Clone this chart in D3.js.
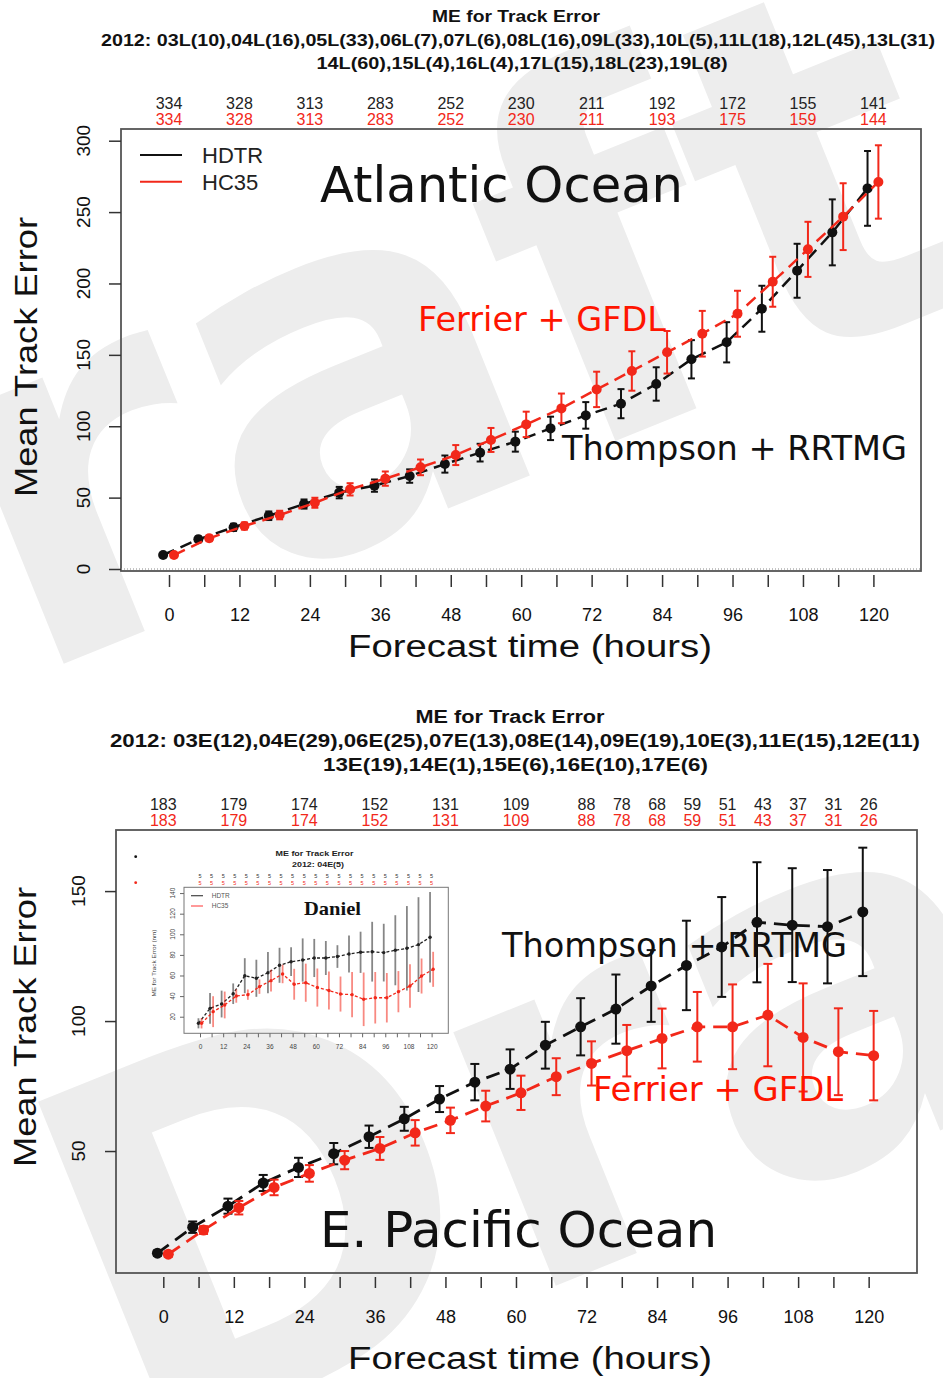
<!DOCTYPE html>
<html><head><meta charset="utf-8">
<script src="https://cdn.jsdelivr.net/npm/d3@7"></script>
<style>body{margin:0;background:#fff}svg{display:block}</style>
</head><body>
<svg id="c" width="943" height="1378"></svg>
<script>
// ---------------- DATA ----------------
const leadHours = [0,6,12,18,24,30,36,42,48,54,60,66,72,78,84,90,96,102,108,114,120];
const labelHours = [0,12,24,36,48,60,72,84,96,108,120];

// Atlantic
const atlHDTR    = [9.8,20.8,29.2,37.3,45.5,53.5,58.4,65.1,73.5,81.5,89.2,98.5,107.6,115.8,129.6,146.9,158.8,182.3,208.9,235.8,266.6];
const atlHDTRerr = [1,2,2.5,3,3.2,4,4.3,4.7,6,6.2,7,8.2,9.3,10.2,11.7,13.4,14.1,16.1,18.9,23.1,26.2];
const atlHC35    = [9.8,21.5,30.1,37.8,46.4,55.8,63.3,71.2,79.8,90.4,101.3,112.5,125.8,138.7,151.8,164.8,178.8,201.2,223.9,246.8,271.1];
const atlHC35err = [1,2,2.5,3,3.5,4.3,5,5.5,7,8.4,8.9,10.4,12.4,13.8,14.9,16.0,16.1,17.5,19.3,23.4,25.7];
const atlCountHours = [0,12,24,36,48,60,72,84,96,108,120];
const atlCountHDTR  = [334,328,313,283,252,230,211,192,172,155,141];
const atlCountHC35  = [334,328,313,283,252,230,211,193,175,159,144];
const atlYTicks = [0,50,100,150,200,250,300];
const atlTitles = ["ME for Track Error",
  "2012: 03L(10),04L(16),05L(33),06L(7),07L(6),08L(16),09L(33),10L(5),11L(18),12L(45),13L(31)",
  "14L(60),15L(4),16L(4),17L(15),18L(23),19L(8)"];

// E. Pacific
const epacHDTR    = [10.7,20.7,28.8,37.7,43.7,49.0,55.5,62.4,70.0,76.5,81.5,90.7,97.8,104.6,113.5,121.4,128.5,138.0,136.9,136.3,142.0];
const epacHDTRerr = [1,2.2,2.9,3.1,3.7,4.1,4.3,4.6,5,7,7.6,9.0,11.0,13.3,13.8,17.2,19.2,23.1,21.9,21.8,24.7];
const epacHC35    = [10.3,19.6,28.2,36.0,41.4,46.5,51.0,57.0,61.8,67.3,72.4,78.6,83.7,88.6,93.3,97.8,97.8,102.3,93.7,88.2,86.7];
const epacHC35err = [1,1.5,2.6,3,3.2,3.5,4.4,4.9,4.9,5.9,6.6,7.1,8.5,9.9,11.5,13.4,16.3,19.7,20.8,16.7,17.2];
const epacCountHours = [0,12,24,36,48,60,72,78,84,90,96,102,108,114,120];
const epacCountHDTR  = [183,179,174,152,131,109,88,78,68,59,51,43,37,31,26];
const epacCountHC35  = [183,179,174,152,131,109,88,78,68,59,51,43,37,31,26];
const epacYTicks = [50,100,150];
const epacTitles = ["ME for Track Error",
  "2012: 03E(12),04E(29),06E(25),07E(13),08E(14),09E(19),10E(3),11E(15),12E(11)",
  "13E(19),14E(1),15E(6),16E(10),17E(6)"];

// Inset: Daniel (04E)
const danHDTR    = [13.6,28.1,32.3,42.3,59.8,57.3,62.7,69.9,73.4,75.0,77.0,77.0,78.4,80.9,82.5,83.1,82.2,84.5,86.4,90.0,97.1];
const danHDTRerr = [4.9,15,13,10,17,18,20,17,14,21,18.5,16.5,11,18,20,29,28,34,41,46,44];
const danHC35    = [13.6,24.9,31.4,40.1,41.4,49.2,55.0,61.5,51.5,53.0,48.3,45.4,42.0,41.4,36.9,38.4,38.4,44.3,49.8,59.5,66.0];
const danHC35err = [5,15,13,6.5,5,7,10.5,9,15,18.5,18.5,18.5,17,22,26,25,24,20,21,17,17];
const danCount   = [5,5,5,5,5,5,5,5,5,5,5,5,5,5,5,5,5,5,5,5,5];
const danYTicks  = [20,40,60,80,100,120,140];

// ---------------- DRAWING ----------------
const SANS = "'Liberation Sans', Arial, Helvetica, sans-serif";
const VER  = "'DejaVu Sans', Verdana, sans-serif";
const RED = '#f2281a', BLK = '#111';
const svg = d3.select('#c');

// watermark
const wm = svg.append('g');
[[-360,835],[132,1457]].forEach(p => {
  wm.append('text').attr('transform', `translate(${p[0]},${p[1]}) rotate(-22)`)
    .attr('font-family', VER).attr('font-weight','bold').attr('font-size', 500)
    .attr('fill', '#ededed').text('Draft');
});

function fitText(sel, w){ if(w) sel.attr('textLength', w).attr('lengthAdjust','spacingAndGlyphs'); return sel; }

function drawPanel(o){
  const g = svg.append('g');
  const x = d3.scaleLinear().domain(o.xDom).range([o.L, o.R]);
  const y = d3.scaleLinear().domain(o.yDom).range([o.B, o.T]);

  o.titles.forEach((t,i) => {
    fitText(g.append('text').attr('x', o.titleX[i]).attr('y', o.titleY[i])
      .attr('text-anchor','middle').attr('font-family',SANS).attr('font-weight','bold')
      .attr('font-size', o.titleSize).attr('fill','#111').text(t), o.titleW[i]);
  });

  [[o.countA, o.countY[0], '#222'], [o.countB, o.countY[1], RED]].forEach(([arr, yy, col]) => {
    g.append('g').selectAll('text').data(o.countHours).join('text')
      .attr('x', d => x(d)).attr('y', yy).attr('text-anchor','middle')
      .attr('font-family',SANS).attr('font-size',16).attr('fill',col)
      .text((d,i) => arr[i]);
  });

  g.append('rect').attr('x',o.L).attr('y',o.T).attr('width',o.R-o.L).attr('height',o.B-o.T)
    .attr('fill','none').attr('stroke','#555').attr('stroke-width',1.8);
  if (o.zeroLine) {
    g.append('line').attr('x1',o.L).attr('x2',o.R).attr('y1',y(0)).attr('y2',y(0))
      .attr('stroke','#888').attr('stroke-width',1).attr('stroke-dasharray','1,2');
  }

  const xa = g.append('g').attr('transform',`translate(0,${o.B + o.xGap})`)
    .call(d3.axisBottom(x).tickValues(leadHours).tickSize(o.tick).tickPadding(o.xPad)
      .tickFormat(d => labelHours.includes(d) ? d : ''));
  xa.select('.domain').remove();
  xa.selectAll('line').attr('stroke','#333').attr('stroke-width',1.5);
  xa.selectAll('text').attr('font-family',SANS).attr('font-size',18).attr('fill','#111');

  const ya = g.append('g').attr('transform',`translate(${o.L},0)`)
    .call(d3.axisLeft(y).tickValues(o.yTicks).tickSize(o.tick).tickFormat(''));
  ya.select('.domain').remove();
  ya.selectAll('line').attr('stroke','#333').attr('stroke-width',1.5);
  g.append('g').selectAll('text').data(o.yTicks).join('text')
    .attr('transform', d => `translate(${o.yLabX},${y(d)}) rotate(-90)`)
    .attr('text-anchor','middle').attr('font-family',SANS).attr('font-size',19).attr('fill','#111')
    .text(d => d);

  fitText(g.append('text').attr('x', o.xTitle[0]).attr('y', o.xTitle[1]).attr('text-anchor','middle')
    .attr('font-family',SANS).attr('font-size',31).attr('fill','#111').text('Forecast time (hours)'), 364);
  fitText(g.append('text').attr('transform',`translate(${o.yTitle[0]},${o.yTitle[1]}) rotate(-90)`)
    .attr('text-anchor','middle').attr('font-family',SANS).attr('font-size',31).attr('fill','#111')
    .text('Mean Track Error'), 280);

  if (o.inset) o.inset();

  o.series.forEach(s => {
    const xs = leadHours.map(h => x(h + s.off));
    const line = d3.line().x((d,i) => xs[i]).y(d => y(d));
    g.append('path').datum(s.v).attr('d', line).attr('fill','none').attr('stroke', s.color)
      .attr('stroke-width', o.lw).attr('stroke-dasharray', o.dash);
    const eb = g.append('g').attr('stroke', s.color).attr('stroke-width', 2);
    eb.selectAll('line.v').data(s.v).join('line').attr('class','v')
      .attr('x1',(d,i)=>xs[i]).attr('x2',(d,i)=>xs[i])
      .attr('y1',(d,i)=>y(d - s.e[i])).attr('y2',(d,i)=>y(d + s.e[i]));
    [1,-1].forEach(sg => {
      eb.selectAll('line.c'+(sg>0?'t':'b')).data(s.v).join('line').attr('class','c'+(sg>0?'t':'b'))
        .attr('x1',(d,i)=>xs[i]-o.cap).attr('x2',(d,i)=>xs[i]+o.cap)
        .attr('y1',(d,i)=>y(d + sg*s.e[i])).attr('y2',(d,i)=>y(d + sg*s.e[i]));
    });
    g.append('g').selectAll('circle').data(s.v).join('circle')
      .attr('cx',(d,i)=>xs[i]).attr('cy',d=>y(d)).attr('r', o.r).attr('fill', s.color);
  });

  o.notes.forEach(n => {
    fitText(g.append('text').attr('x', n.x).attr('y', n.y).attr('font-family',VER)
      .attr('font-size', n.size).attr('fill', n.color).text(n.t), n.w);
  });

  if (o.legend) {
    o.legend.forEach(l => {
      g.append('line').attr('x1',140).attr('x2',182).attr('y1',l.y).attr('y2',l.y)
        .attr('stroke',l.color).attr('stroke-width',2);
      g.append('text').attr('x',202).attr('y',l.y+8).attr('font-family',SANS).attr('font-size',22)
        .attr('fill','#222').text(l.t);
    });
  }
}

function drawInset(){
  const L=184, R=448.3, T=887.3, B=1033.3;
  const g = svg.append('g');
  const x = d3.scaleLinear().domain([(L-200)/1.93, (R-200)/1.93]).range([L,R]);
  const y = d3.scaleLinear().domain([3.9, 145.6]).range([B,T]);
  g.append('circle').attr('cx',135.7).attr('cy',856.7).attr('r',1.4).attr('fill','#111');
  g.append('circle').attr('cx',135.7).attr('cy',882.7).attr('r',1.4).attr('fill',RED);
  fitText(g.append('text').attr('x',314.5).attr('y',856).attr('text-anchor','middle').attr('font-family',SANS)
    .attr('font-weight','bold').attr('font-size',8).attr('fill','#222').text('ME for Track Error'), 78);
  fitText(g.append('text').attr('x',318).attr('y',867).attr('text-anchor','middle').attr('font-family',SANS)
    .attr('font-weight','bold').attr('font-size',8).attr('fill','#222').text('2012: 04E(5)'), 52);
  [[877.5,'#333'],[884.5,RED]].forEach(([yy,col]) => {
    g.append('g').selectAll('text').data(leadHours).join('text').attr('x',d=>x(d)).attr('y',yy)
      .attr('text-anchor','middle').attr('font-family',SANS).attr('font-size',5.5).attr('fill',col)
      .text((d,i)=>danCount[i]);
  });
  g.append('rect').attr('x',L).attr('y',T).attr('width',R-L).attr('height',B-T)
    .attr('fill','none').attr('stroke','#777').attr('stroke-width',1);
  const xa = g.append('g').attr('transform',`translate(0,${B})`)
    .call(d3.axisBottom(x).tickValues(leadHours).tickSize(4).tickPadding(7)
      .tickFormat(d => labelHours.includes(d) ? d : ''));
  xa.select('.domain').remove();
  xa.selectAll('line').attr('stroke','#666');
  xa.selectAll('text').attr('font-family',SANS).attr('font-size',6.5).attr('fill','#444');
  const ya = g.append('g').attr('transform',`translate(${L},0)`)
    .call(d3.axisLeft(y).tickValues(danYTicks).tickSize(4).tickFormat(''));
  ya.select('.domain').remove();
  ya.selectAll('line').attr('stroke','#666');
  g.append('g').selectAll('text').data(danYTicks).join('text')
    .attr('transform', d=>`translate(175,${y(d)}) rotate(-90)`).attr('text-anchor','middle')
    .attr('font-family',SANS).attr('font-size',6.5).attr('fill','#444').text(d=>d);
  fitText(g.append('text').attr('transform','translate(156,963) rotate(-90)').attr('text-anchor','middle')
    .attr('font-family',SANS).attr('font-size',6).attr('fill','#444').text('ME for Track Error (nm)'), 67);
  [[895.7,'#444','HDTR'],[906,'#f55','HC35']].forEach(([yy,col,t]) => {
    g.append('line').attr('x1',191).attr('x2',203).attr('y1',yy).attr('y2',yy).attr('stroke',col).attr('stroke-width',1.2);
    g.append('text').attr('x',211.7).attr('y',yy+2.2).attr('font-family',SANS).attr('font-size',6.5).attr('fill','#555').text(t);
  });
  fitText(g.append('text').attr('x',304).attr('y',915).attr('font-family',"'Liberation Serif', 'Times New Roman', serif")
    .attr('font-weight','bold').attr('font-size',19).attr('fill','#111').text('Daniel'), 57);
  [[danHDTR,danHDTRerr,'#222',-0.8,0.55],[danHC35,danHC35err,RED,0.8,0.55]].forEach(([v,e,col,off,op]) => {
    const xs = leadHours.map(h => x(h+off));
    g.append('g').attr('stroke',col).attr('stroke-opacity',op).attr('stroke-width',1.8)
      .selectAll('line').data(v).join('line')
      .attr('x1',(d,i)=>xs[i]).attr('x2',(d,i)=>xs[i])
      .attr('y1',(d,i)=>y(d-e[i])).attr('y2',(d,i)=>y(d+e[i]));
    g.append('path').datum(v).attr('d', d3.line().x((d,i)=>xs[i]).y(d=>y(d)))
      .attr('fill','none').attr('stroke',col).attr('stroke-width',1.3).attr('stroke-dasharray','3,2');
    g.append('g').selectAll('circle').data(v).join('circle')
      .attr('cx',(d,i)=>xs[i]).attr('cy',d=>y(d)).attr('r',1.7).attr('fill',col);
  });
}

drawPanel({
  L:121, R:921, T:129, B:571,
  xDom:[(121-169)/5.87, (921-169)/5.87], yDom:[-1.4, 308.2],
  titles: atlTitles, titleX:[516,518,522], titleY:[22,46,69], titleW:[168,834,411], titleSize:16,
  countHours: atlCountHours, countA: atlCountHDTR, countB: atlCountHC35, countY:[109,125],
  zeroLine:true, xGap:4, tick:12, xPad:21, yTicks: atlYTicks, yLabX:90,
  xTitle:[530,657], yTitle:[37,357],
  lw:2.5, dash:'12,7', cap:3.5, r:5,
  series:[{v:atlHDTR, e:atlHDTRerr, color:BLK, off:-1.0},{v:atlHC35, e:atlHC35err, color:RED, off:0.85}],
  notes:[
    {t:'Atlantic Ocean', x:320, y:202, size:50, color:'#111', w:363},
    {t:'Ferrier + GFDL', x:418, y:331, size:33, color:'#ff1500', w:248},
    {t:'Thompson + RRTMG', x:562, y:460, size:33, color:'#111', w:345}
  ],
  legend:[{t:'HDTR', color:'#111', y:155},{t:'HC35', color:RED, y:181.7}]
});

drawPanel({
  L:116, R:917, T:830, B:1273,
  xDom:[(116-163.3)/5.878, (917-163.3)/5.878], yDom:[3.08, 173.5],
  titles: epacTitles, titleX:[510,515,515.5], titleY:[723,747,771], titleW:[189,810,385], titleSize:18,
  countHours: epacCountHours, countA: epacCountHDTR, countB: epacCountHC35, countY:[810,826],
  zeroLine:false, xGap:4, tick:11, xPad:22, yTicks: epacYTicks, yLabX:85,
  xTitle:[530,1369], yTitle:[36,1027],
  lw:2.8, dash:'14,8', cap:4.5, r:5.5,
  inset: drawInset,
  series:[{v:epacHDTR, e:epacHDTRerr, color:BLK, off:-1.0},{v:epacHC35, e:epacHC35err, color:RED, off:0.85}],
  notes:[
    {t:'E. Pacific Ocean', x:320, y:1247, size:50, color:'#111', w:397},
    {t:'Thompson + RRTMG', x:502, y:957, size:33, color:'#111', w:345},
    {t:'Ferrier + GFDL', x:593, y:1101, size:33, color:'#ff1500', w:250}
  ]
});
</script>
</body></html>
